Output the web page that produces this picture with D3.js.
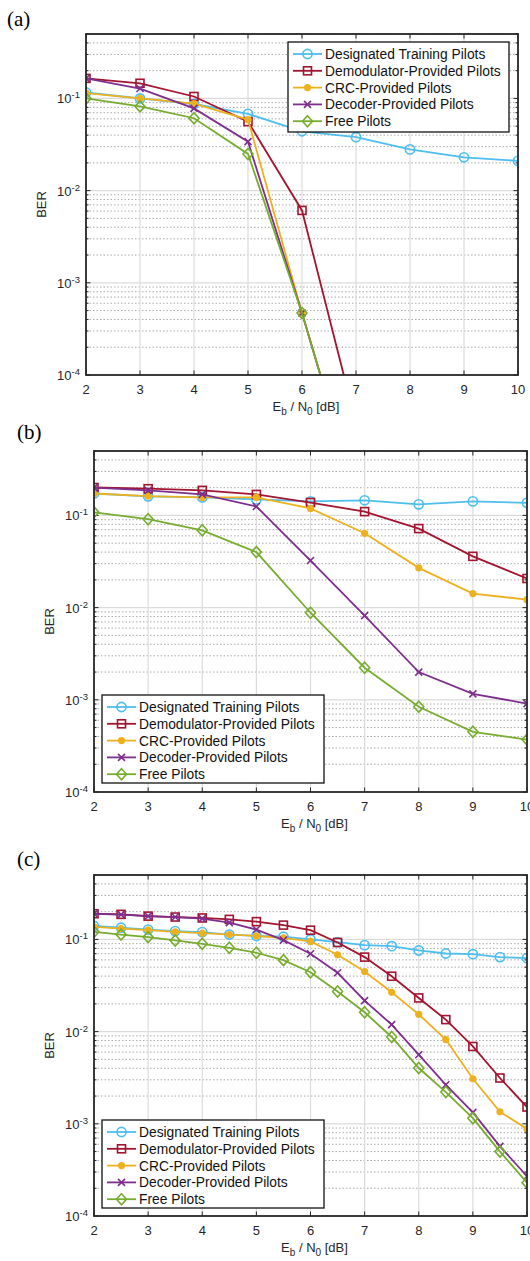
<!DOCTYPE html>
<html>
<head>
<meta charset="utf-8">
<script src="https://cdn.jsdelivr.net/npm/d3@7"></script>
<style>
  body { margin: 0; background: #fff; }
  svg { display: block; }
</style>
</head>
<body>
<script>
/* ---------------------------- */
/* DATA                         */
/* ---------------------------- */

const seriesNames = ["Designated Training Pilots", "Demodulator-Provided Pilots",
  "CRC-Provided Pilots", "Decoder-Provided Pilots", "Free Pilots"];
const xTicks = [2, 3, 4, 5, 6, 7, 8, 9, 10];

// panel (a): Eb/N0 = 2..10 dB (null = no value shown)
const snrA = [2, 3, 4, 5, 6, 7, 8, 9, 10];
const designatedA = [0.116, 0.1, 0.087, 0.068, 0.044, 0.038, 0.028, 0.023, 0.021];
const demodA = [0.165, 0.146, 0.105, 0.056, 0.0061, 0.00003, null, null, null];
const crcA = [0.114, 0.1, 0.088, 0.059, 0.00047, 0.000005, null, null, null];
const decoderA = [0.165, 0.128, 0.078, 0.034, 0.00047, 0.000005, null, null, null];
const freeA = [0.1, 0.082, 0.061, 0.025, 0.00047, 0.000005, null, null, null];

// panel (b)
const snrB = [2, 3, 4, 5, 6, 7, 8, 9, 10];
const designatedB = [0.173, 0.161, 0.157, 0.149, 0.142, 0.146, 0.132, 0.142, 0.137];
const demodB = [0.201, 0.195, 0.187, 0.169, 0.138, 0.110, 0.072, 0.036, 0.0207];
const crcB = [0.173, 0.162, 0.157, 0.157, 0.119, 0.064, 0.027, 0.0142, 0.0122];
const decoderB = [0.200, 0.187, 0.169, 0.125, 0.0324, 0.0082, 0.0020, 0.00116, 0.00091];
const freeB = [0.108, 0.091, 0.069, 0.040, 0.0088, 0.00223, 0.00084, 0.00045, 0.00037];

// panel (c): half-dB steps
const snrC = [2, 2.5, 3, 3.5, 4, 4.5, 5, 5.5, 6, 6.5, 7, 7.5, 8, 8.5, 9, 9.5, 10];
const designatedC = [0.140, 0.134, 0.128, 0.123, 0.120, 0.113, 0.109, 0.107, 0.100,
  0.0935, 0.0867, 0.0845, 0.0759, 0.0704, 0.0692, 0.0643, 0.0627];
const demodC = [0.190, 0.187, 0.179, 0.175, 0.171, 0.165, 0.156, 0.143, 0.126,
  0.0927, 0.0643, 0.0399, 0.0232, 0.0135, 0.0069, 0.00314, 0.00152];
const crcC = [0.137, 0.131, 0.126, 0.121, 0.117, 0.113, 0.109, 0.104, 0.0951,
  0.0682, 0.0449, 0.0267, 0.0154, 0.0082, 0.00308, 0.00135, 0.00088];
const decoderC = [0.190, 0.186, 0.179, 0.175, 0.168, 0.152, 0.128, 0.0984, 0.070,
  0.0435, 0.0217, 0.0119, 0.00562, 0.00265, 0.00133, 0.00057, 0.00027];
const freeC = [0.121, 0.113, 0.106, 0.0975, 0.0897, 0.0812, 0.0717, 0.0596, 0.0441,
  0.0272, 0.0162, 0.00875, 0.00403, 0.00221, 0.00115, 0.0005, 0.00023];

/* ---------------------------- */
/* STYLE                        */
/* ---------------------------- */

const colors = ["#4DBEEE", "#A2142F", "#EDB120", "#7E2F8E", "#77AC30"];
const markers = ["circle", "square", "dot", "cross", "diamond"];
const font = "'Liberation Sans', Arial, sans-serif";

const svg = d3.select("body").append("svg")
  .attr("width", 530).attr("height", 1261);

/* ---------------------------- */
/* FUNCTIONS                    */
/* ---------------------------- */

function drawMarker(g, type, x, y, color) {
  if (type === "circle") {
    g.append("circle").attr("cx", x).attr("cy", y).attr("r", 4.6)
      .attr("fill", "none").attr("stroke", color).attr("stroke-width", 1.6);
  } else if (type === "square") {
    g.append("rect").attr("x", x - 4).attr("y", y - 4).attr("width", 8).attr("height", 8)
      .attr("fill", "none").attr("stroke", color).attr("stroke-width", 1.6);
  } else if (type === "dot") {
    g.append("circle").attr("cx", x).attr("cy", y).attr("r", 3.6).attr("fill", color);
  } else if (type === "cross") {
    g.append("path").attr("d", `M${x-3.5},${y-3.5}L${x+3.5},${y+3.5}M${x-3.5},${y+3.5}L${x+3.5},${y-3.5}`)
      .attr("stroke", color).attr("stroke-width", 1.6);
  } else if (type === "diamond") {
    g.append("path").attr("d", `M${x},${y-5.5}L${x+5},${y}L${x},${y+5.5}L${x-5},${y}Z`)
      .attr("fill", "none").attr("stroke", color).attr("stroke-width", 1.6);
  }
}

function drawPanel(p) {
  const x = d3.scaleLinear().domain([2, 10]).range([p.left, p.right]);
  const y = d3.scaleLog().domain([1e-4, 0.5]).range([p.bottom, p.top]);
  const g = svg.append("g");
  const dark = "#262626";

  // panel letter
  svg.append("text").attr("x", p.labelX).attr("y", p.labelY)
    .style("font-family", "'Liberation Serif', 'Times New Roman', serif")
    .style("font-size", "21px").text(p.letter);

  // grid
  const minor = [];
  [1e-4, 1e-3, 1e-2, 1e-1].forEach(d => { for (let k = 2; k <= 9; k++) if (d * k <= 0.5) minor.push(d * k); });
  g.selectAll(".minor").data(minor).enter().append("line")
    .attr("x1", p.left).attr("x2", p.right)
    .attr("y1", d => y(d)).attr("y2", d => y(d))
    .attr("stroke", "#aaaaaa").attr("stroke-width", 1).attr("stroke-dasharray", "1.5,2");
  g.selectAll(".majy").data([1e-3, 1e-2, 1e-1]).enter().append("line")
    .attr("x1", p.left).attr("x2", p.right)
    .attr("y1", d => y(d)).attr("y2", d => y(d))
    .attr("stroke", "#dcdcdc").attr("stroke-width", 1.2);
  g.selectAll(".majx").data(xTicks.slice(1, -1)).enter().append("line")
    .attr("x1", d => x(d)).attr("x2", d => x(d))
    .attr("y1", p.top).attr("y2", p.bottom)
    .attr("stroke", "#dcdcdc").attr("stroke-width", 1.2);

  // ticks inside box
  const ticks = g.append("g").attr("stroke", dark).attr("stroke-width", 1);
  xTicks.forEach(t => {
    ticks.append("line").attr("x1", x(t)).attr("x2", x(t)).attr("y1", p.bottom).attr("y2", p.bottom - 4.5);
    ticks.append("line").attr("x1", x(t)).attr("x2", x(t)).attr("y1", p.top).attr("y2", p.top + 4.5);
  });
  [1e-4, 1e-3, 1e-2, 1e-1].forEach(t => {
    ticks.append("line").attr("x1", p.left).attr("x2", p.left + 4.5).attr("y1", y(t)).attr("y2", y(t));
    ticks.append("line").attr("x1", p.right).attr("x2", p.right - 4.5).attr("y1", y(t)).attr("y2", y(t));
  });
  minor.forEach(t => {
    ticks.append("line").attr("x1", p.left).attr("x2", p.left + 2.5).attr("y1", y(t)).attr("y2", y(t));
    ticks.append("line").attr("x1", p.right).attr("x2", p.right - 2.5).attr("y1", y(t)).attr("y2", y(t));
  });

  // series
  const clipId = "clip" + p.letter.replace(/\W/g, "");
  svg.append("clipPath").attr("id", clipId).append("rect")
    .attr("x", p.left).attr("y", p.top).attr("width", p.right - p.left).attr("height", p.bottom - p.top);
  const plot = g.append("g").attr("clip-path", `url(#${clipId})`);
  p.series.forEach((vals, i) => {
    const pts = p.snr.map((s, j) => [s, vals[j]]).filter(d => d[1] != null);
    plot.append("path").datum(pts)
      .attr("d", d3.line().x(d => x(d[0])).y(d => y(d[1])))
      .attr("fill", "none").attr("stroke", colors[i]).attr("stroke-width", 1.8);
    pts.filter(d => d[1] >= 1e-4).forEach(d => drawMarker(plot, markers[i], x(d[0]), y(d[1]), colors[i]));
  });

  // box
  g.append("rect").attr("x", p.left).attr("y", p.top)
    .attr("width", p.right - p.left).attr("height", p.bottom - p.top)
    .attr("fill", "none").attr("stroke", dark).attr("stroke-width", 1.8);

  // tick labels
  xTicks.forEach(t => {
    g.append("text").attr("x", x(t)).attr("y", p.bottom + 19)
      .attr("text-anchor", "middle").attr("fill", dark)
      .style("font-family", font).style("font-size", "13px").text(t);
  });
  [-4, -3, -2, -1].forEach(e => {
    const t = g.append("text").attr("x", p.left - 6).attr("y", y(Math.pow(10, e)) + 5)
      .attr("text-anchor", "end").attr("fill", dark)
      .style("font-family", font).style("font-size", "13px");
    t.append("tspan").text("10");
    t.append("tspan").attr("dy", -5).style("font-size", "9.5px").text(e);
  });

  // axis labels
  const xl = g.append("text").attr("x", (p.left + p.right) / 2 + 4).attr("y", p.bottom + 36)
    .attr("text-anchor", "middle").attr("fill", dark)
    .style("font-family", font).style("font-size", "13px");
  xl.append("tspan").text("E");
  xl.append("tspan").attr("dy", 4).style("font-size", "10px").text("b");
  xl.append("tspan").attr("dy", -4).text(" / N");
  xl.append("tspan").attr("dy", 4).style("font-size", "10px").text("0");
  xl.append("tspan").attr("dy", -4).text(" [dB]");
  g.append("text").attr("transform", `translate(${p.yLabelX},${(p.top + p.bottom) / 2}) rotate(-90)`)
    .attr("text-anchor", "middle").attr("fill", dark)
    .style("font-family", font).style("font-size", "13px").text("BER");

  // legend
  const L = p.legend;
  const lg = g.append("g");
  lg.append("rect").attr("x", L.x).attr("y", L.y).attr("width", L.w).attr("height", L.h)
    .attr("fill", "#fff").attr("stroke", "#111").attr("stroke-width", 1.3);
  seriesNames.forEach((name, i) => {
    const yy = L.y + 12 + i * 16.8;
    lg.append("line").attr("x1", L.x + 5).attr("x2", L.x + 34).attr("y1", yy).attr("y2", yy)
      .attr("stroke", colors[i]).attr("stroke-width", 1.8);
    drawMarker(lg, markers[i], L.x + 19.5, yy, colors[i]);
    lg.append("text").attr("x", L.x + 37).attr("y", yy + 5).attr("fill", "#111")
      .style("font-family", font).style("font-size", "13.8px").text(name);
  });
}

/* ---------------------------- */
/* PANELS                       */
/* ---------------------------- */

drawPanel({ letter: "(a)", labelX: 7, labelY: 26, left: 86, right: 518, top: 34, bottom: 375, yLabelX: 46,
  snr: snrA, series: [designatedA, demodA, crcA, decoderA, freeA],
  legend: { x: 288, y: 42, w: 221, h: 90 } });
drawPanel({ letter: "(b)", labelX: 17, labelY: 439, left: 94, right: 527, top: 451, bottom: 792, yLabelX: 54,
  snr: snrB, series: [designatedB, demodB, crcB, decoderB, freeB],
  legend: { x: 102, y: 695, w: 222, h: 88 } });
drawPanel({ letter: "(c)", labelX: 17, labelY: 866, left: 94, right: 527, top: 875, bottom: 1216, yLabelX: 54,
  snr: snrC, series: [designatedC, demodC, crcC, decoderC, freeC],
  legend: { x: 102, y: 1120, w: 222, h: 88 } });
</script>
</body>
</html>
